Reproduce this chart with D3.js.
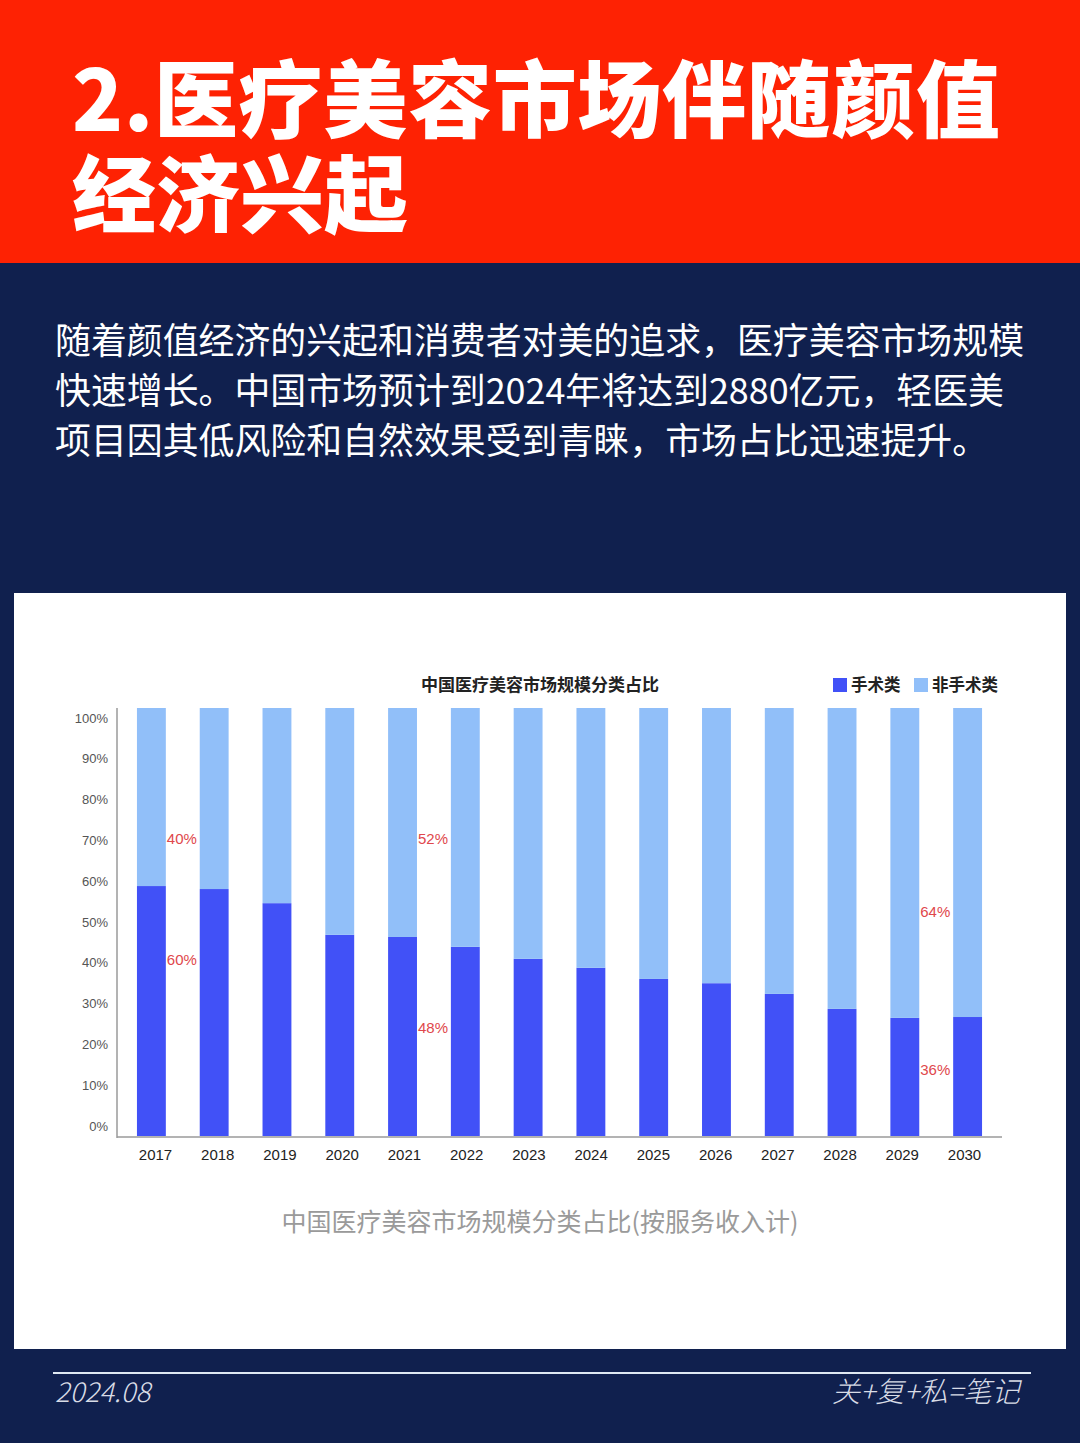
<!DOCTYPE html>
<html>
<head>
<meta charset="utf-8">
<script src="https://cdn.jsdelivr.net/npm/d3@7"></script>
<style>
  html, body { margin: 0; padding: 0; background: #10204e; }
  svg { display: block; }
</style>
</head>
<body>
<svg width="1080" height="1443"></svg>
<script>
// data
const years = ["2017", "2018", "2019", "2020", "2021", "2022", "2023", "2024", "2025", "2026", "2027", "2028", "2029", "2030"];
const surgical = [58.4, 57.7, 54.4, 47.0, 46.5, 44.2, 41.4, 39.3, 36.7, 35.7, 33.2, 29.7, 27.6, 27.8];
const nonSurgical = surgical.map(v => 100 - v); // the rest of each 100% bar
const yTicks = [0, 10, 20, 30, 40, 50, 60, 70, 80, 90, 100];
const seriesNames = ["手术类", "非手术类"];
// labels written next to some bars: year, text, height (in %) where the label sits
const noteYears = ["2017", "2017", "2021", "2021", "2029", "2029"];
const noteTexts = ["40%", "60%", "52%", "48%", "64%", "36%"];
const noteLevels = [69.4, 41.1, 69.4, 25.2, 52.3, 15.4];

const titleLines = ["2.医疗美容市场伴随颜值", "经济兴起"];
const bodyLines = [
    "随着颜值经济的兴起和消费者对美的追求，医疗美容市场规模",
    "快速增长。中国市场预计到2024年将达到2880亿元，轻医美",
    "项目因其低风险和自然效果受到青睐，市场占比迅速提升。"
];

const cjk = "'Noto Sans CJK SC', 'Noto Sans', sans-serif";
const latin = "'Liberation Sans', Arial, 'Noto Sans CJK SC', sans-serif";
const darkBlue = "#4151f7";
const lightBlue = "#91bff9";

const svg = d3.select("svg");

// background panels
svg.append("rect").attr("x", 0).attr("y", 0).attr("width", 1080).attr("height", 1443).attr("fill", "#10204e");
svg.append("rect").attr("x", 0).attr("y", 0).attr("width", 1080).attr("height", 263).attr("fill", "#fe2203");

// header title (first line is spread out a bit wider in the original)
svg.append("g").selectAll("text").data(titleLines).join("text")
    .attr("x", 72)
    .attr("y", (d, i) => 131 + i * 95)
    .attr("fill", "#fff")
    .attr("font-family", cjk)
    .attr("font-weight", 800)
    .attr("font-size", 84)
    .attr("textLength", (d, i) => i == 0 ? 928 : null)
    .attr("lengthAdjust", "spacing")
    .text(d => d);

// intro paragraph
svg.append("g").selectAll("text").data(bodyLines).join("text")
    .attr("x", 55)
    .attr("y", (d, i) => 354 + i * 50)
    .attr("fill", "#fff")
    .attr("font-family", cjk)
    .attr("font-size", 35.9)
    .text(d => d);

// white chart card
svg.append("rect").attr("x", 14).attr("y", 593).attr("width", 1052).attr("height", 756).attr("fill", "#fff");

// scales
const x = d3.scaleBand().domain(years).range([120, 999]).paddingInner(0.54).paddingOuter(0.27);
const y = d3.scaleLinear().domain([0, 100]).range([1136, 708]);
// the tick labels sit on a slightly shorter scale than the bars in the original
const yLabel = d3.scaleLinear().domain([0, 100]).range([1126, 718]);
const xLabel = d3.scalePoint().domain(years).range([155, 964]);

// bars
const stack = d3.stack().keys([0, 1]).value((d, k) => d[k]);
const rows = years.map((yr, i) => Object.assign([surgical[i], nonSurgical[i]], { year: yr }));
const layers = stack(rows);
const colors = [darkBlue, lightBlue];

svg.append("g").selectAll("g").data(layers).join("g")
    .attr("fill", (d, i) => colors[i])
    .selectAll("rect").data(d => d).join("rect")
    .attr("x", d => x(d.data.year))
    .attr("width", x.bandwidth())
    .attr("y", d => y(d[1]))
    .attr("height", d => y(d[0]) - y(d[1]));

// y axis
const yAxis = d3.axisLeft(yLabel).tickValues(yTicks).tickSize(0).tickPadding(0).tickFormat(d => d + "%");
const gy = svg.append("g").attr("transform", "translate(108,0)").call(yAxis);
gy.select(".domain").remove();
gy.selectAll("text").attr("font-family", latin).attr("font-size", 13).attr("fill", "#555");

svg.append("line").attr("x1", 117).attr("x2", 117).attr("y1", y(100)).attr("y2", y(0) + 2)
    .attr("stroke", "#9a9a9a").attr("stroke-width", 1.5);

// x axis
svg.append("line").attr("x1", 117).attr("x2", 1002).attr("y1", y(0) + 1).attr("y2", y(0) + 1)
    .attr("stroke", "#9a9a9a").attr("stroke-width", 1.5);
const xAxis = d3.axisBottom(xLabel).tickSize(0).tickPadding(0);
const gx = svg.append("g").attr("transform", "translate(0,1149)").call(xAxis);
gx.select(".domain").remove();
gx.selectAll("text").attr("font-family", latin).attr("font-size", 15).attr("fill", "#222");

// notes next to bars
svg.append("g").selectAll("text").data(noteTexts).join("text")
    .attr("x", (d, i) => x(noteYears[i]) + x.bandwidth() + 1)
    .attr("y", (d, i) => y(noteLevels[i]))
    .attr("dy", "0.35em")
    .attr("font-family", latin)
    .attr("font-size", 15)
    .attr("fill", "#e0474c")
    .text(d => d);

// chart title
svg.append("text").attr("x", 540).attr("y", 691).attr("text-anchor", "middle")
    .attr("font-family", cjk).attr("font-weight", 700).attr("font-size", 17).attr("fill", "#222")
    .text("中国医疗美容市场规模分类占比");

// legend
const legendX = [833, 914];
const legend = svg.append("g").selectAll("g").data(seriesNames).join("g")
    .attr("transform", (d, i) => `translate(${legendX[i]},678)`);
legend.append("rect").attr("width", 14).attr("height", 14).attr("fill", (d, i) => colors[i]);
legend.append("text").attr("x", 18).attr("y", 13)
    .attr("font-family", cjk).attr("font-weight", 700).attr("font-size", 16.5).attr("fill", "#222")
    .text(d => d);

// caption under the chart
svg.append("text").attr("x", 540).attr("y", 1231).attr("text-anchor", "middle")
    .attr("font-family", cjk).attr("font-size", 25).attr("fill", "#9a9a9a")
    .text("中国医疗美容市场规模分类占比(按服务收入计)");

// footer
svg.append("line").attr("x1", 53).attr("x2", 1031).attr("y1", 1373).attr("y2", 1373)
    .attr("stroke", "#dfe8f2").attr("stroke-width", 2);
svg.append("text").attr("x", 55).attr("y", 1402)
    .attr("font-family", cjk).attr("font-style", "italic").attr("font-weight", 300).attr("font-size", 27.5).attr("fill", "#d8dce6")
    .text("2024.08");
svg.append("text").attr("x", 1020).attr("y", 1402).attr("text-anchor", "end")
    .attr("font-family", cjk).attr("font-style", "italic").attr("font-weight", 300).attr("font-size", 28.5).attr("fill", "#d8dce6")
    .text("关+复+私=笔记");
</script>
</body>
</html>
